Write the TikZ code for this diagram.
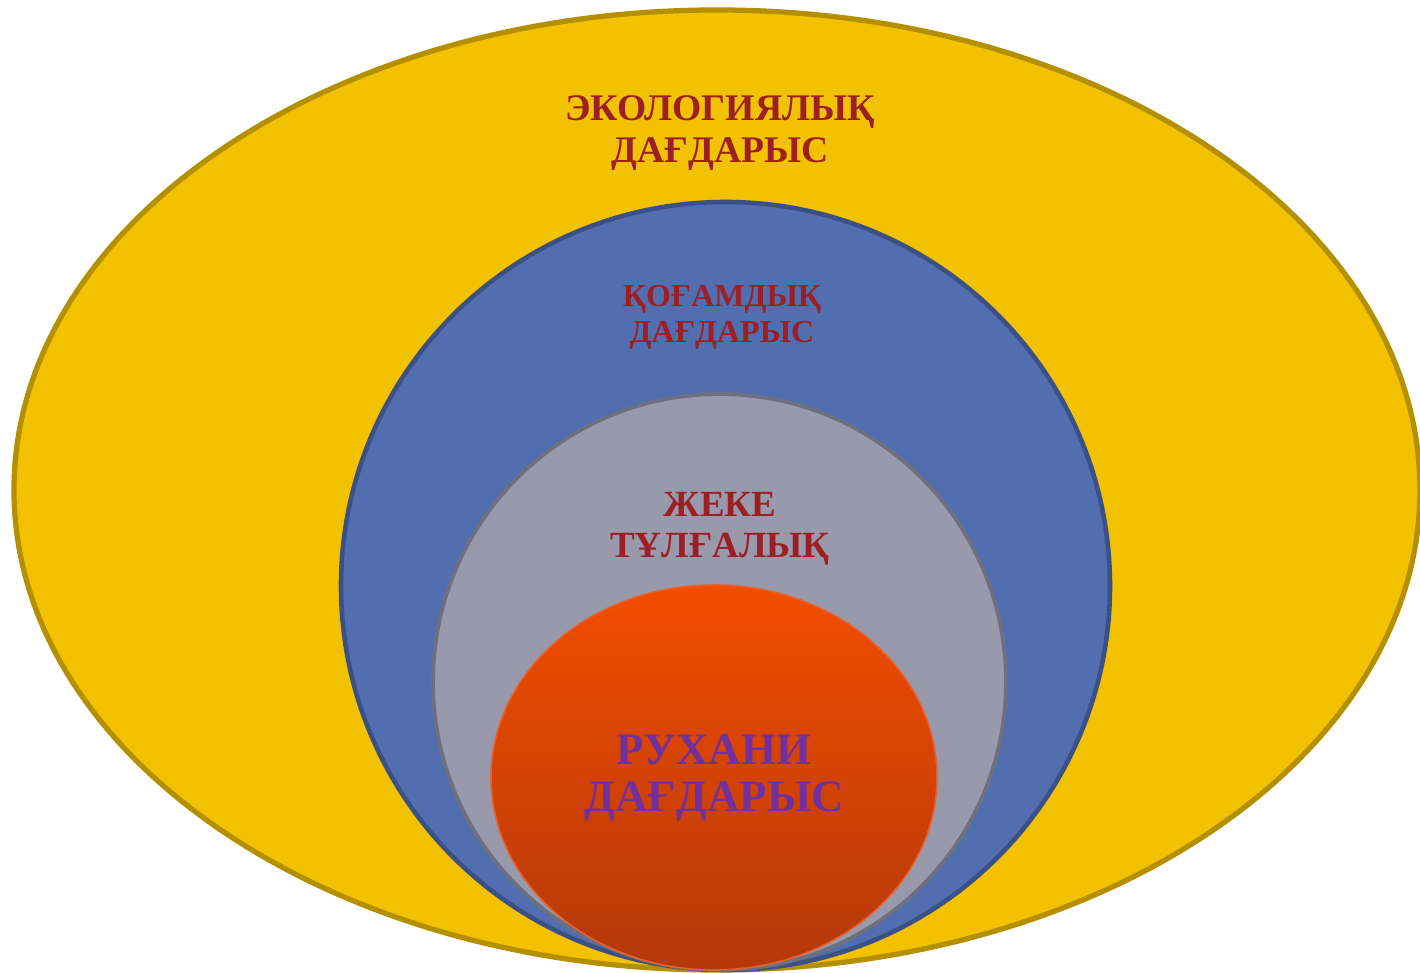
\documentclass[tikz,border=0pt]{standalone}
\usepackage{fontspec}
\setmainfont{Liberation Serif}
\usepackage{tikz}
\usetikzlibrary{shapes.geometric}
\usetikzlibrary{positioning}
\definecolor{sunflower}{RGB}{242, 194, 0}
\definecolor{sunflowerdark}{RGB}{180, 143, 0}
\definecolor{belize}{RGB}{81, 110, 176}
\definecolor{belizedark}{RGB}{58, 80, 134}
\definecolor{asbestos}{RGB}{152, 153, 171}
\definecolor{asbestosdark}{RGB}{110, 111, 128}
\definecolor{pumpkin}{RGB}{242, 77, 0}
\definecolor{pumpkindark}{RGB}{180, 56, 10}
\definecolor{pumpkinline}{RGB}{232, 96, 42}
\definecolor{wine}{RGB}{155, 31, 36}
\definecolor{wisteria}{RGB}{112, 48, 160}

\begin{document}
\begin{tikzpicture}[
        ring/.style={ellipse, inner sep=0pt, outer sep=0pt},
        label/.style={align=center, font=\bfseries, color=wine}
    ]
            % Frame to ensure alignment:
            \useasboundingbox                                                  (0.00, 0.00) rectangle (28.40, 19.46);
            % Ecological crisis
            \node[ring, draw=sunflowerdark, fill=sunflower, line width=3.0pt,
                  minimum width=28.12cm, minimum height=19.20cm]  (eco)   at (14.34, 9.66) {};
            % Social crisis
            \node[ring, draw=belizedark, fill=belize, line width=2.6pt,
                  minimum width=15.38cm, minimum height=15.36cm]  (soc)   at (14.51, 7.74) {};
            % Personal crisis
            \node[ring, draw=asbestosdark, fill=asbestos, line width=2.2pt,
                  minimum width=11.46cm, minimum height=11.52cm]  (pers)  at (14.39, 5.82) {};
            % Spiritual crisis
            \node[ring, draw=pumpkinline, top color=pumpkin, bottom color=pumpkindark, line width=0.9pt,
                  minimum width=8.92cm, minimum height=7.70cm]    (spir)  at (14.28, 3.91) {};
            % Labels
            \node[label, font=\bfseries\fontsize{21.4}{23.6}\selectfont]     (ecotxt)  at (14.40, 16.80) {ЭКОЛОГИЯЛЫҚ\\ДАҒДАРЫС};
            \node[label, font=\bfseries\fontsize{18.2}{20.2}\selectfont]     (soctxt)  at (14.44, 13.11) {ҚОҒАМДЫҚ\\ДАҒДАРЫС};
            \node[label, font=\bfseries\fontsize{21}{23}\selectfont]         (perstxt) at (14.40,  8.88) {ЖЕКЕ\\ТҰЛҒАЛЫҚ};
            \node[label, color=wisteria, font=\bfseries\fontsize{25.6}{27}\selectfont] (spirtxt) at (14.28, 3.90) {РУХАНИ\\ДАҒДАРЫС};
\end{tikzpicture}
\end{document}
